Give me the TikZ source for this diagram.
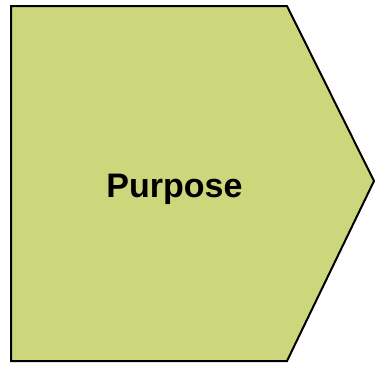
\documentclass[tikz,border=0pt]{standalone}
\usepackage{fontspec}
\setmainfont{Liberation Sans}
\definecolor{olivefill}{RGB}{204,214,122}
\tikzset{arrowshape/.style={draw=black, line width=2pt, fill=olivefill, line join=miter},
  label/.style={font=\bfseries\fontsize{34}{40}\selectfont, inner sep=0pt, anchor=base}}
\begin{document}
\begin{tikzpicture}[x=1pt,y=-1pt]
\useasboundingbox (0,0) rectangle (377,364);
\draw[arrowshape] (11,6) coordinate (tl) -- (287,6) coordinate (tr) -- (374,181) coordinate (tip) -- (287,361) coordinate (br) -- (11,361) coordinate (bl) -- cycle;
\node[label] (purpose) at (174.5,197) {Purpose};
\end{tikzpicture}
\end{document}
